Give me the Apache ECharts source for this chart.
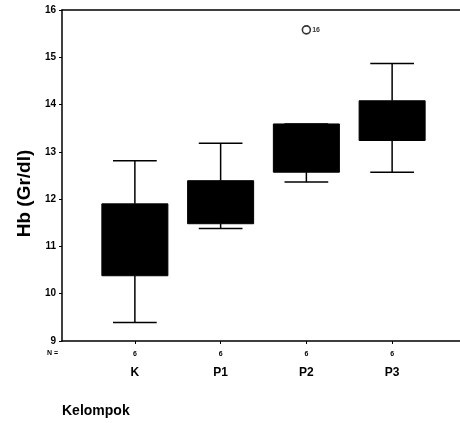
<!DOCTYPE html>
<html>
<head>
<meta charset="utf-8">
<script src="https://cdn.jsdelivr.net/npm/echarts@6/dist/echarts.min.js"></script>
<style>html,body{margin:0;padding:0;background:#fff;}#chart{width:460px;height:423px;}</style>
</head>
<body>
<div id="chart"></div>
<script>
var categories = ['K', 'P1', 'P2', 'P3'];
var nCounts = ['6', '6', '6', '6'];
var whiskerLow = [9.39, 11.38, 12.36, 12.57];
var q1Values = [10.38, 11.48, 12.57, 13.24];
var q3Values = [11.90, 12.39, 13.59, 14.08];
var whiskerHigh = [12.81, 13.18, 13.59, 14.87];
var outlierCategory = ['P2'];
var outlierValues = [15.58];
var outlierLabels = ['16'];
var yTicks = [9, 10, 11, 12, 13, 14, 15, 16];

var FONT = '"Liberation Sans", Arial, sans-serif';
var boxData = categories.map(function (c, i) {
  return [i, whiskerLow[i], q1Values[i], q3Values[i], whiskerHigh[i]];
});
var outData = outlierValues.map(function (v, i) {
  return { value: [categories.indexOf(outlierCategory[i]), v], lab: outlierLabels[i] };
});

var chart = echarts.init(document.getElementById('chart'));
chart.setOption({
  animation: false,
  backgroundColor: '#fff',
  title: [
    { text: 'N =', left: 47, top: 350, padding: 0, textStyle: { fontFamily: FONT, fontSize: 7, fontWeight: 'bold', color: '#000' } },
    { text: 'Kelompok', left: 62, top: 404, padding: 0, textStyle: { fontFamily: FONT, fontSize: 14, fontWeight: 'bold', color: '#000' } }
  ],
  grid: [
    { left: 62, top: 10, width: 398, height: 331 },
    { left: 92, top: 10, width: 343, height: 331 }
  ],
  xAxis: [
    { gridIndex: 0, type: 'value', min: 0, max: 1, position: 'bottom',
      axisLine: { show: true, lineStyle: { color: '#000', width: 1.5 } },
      axisTick: { show: false }, axisLabel: { show: false }, splitLine: { show: false } },
    { gridIndex: 0, type: 'value', min: 0, max: 1, position: 'top',
      axisLine: { show: true, lineStyle: { color: '#000', width: 1.5 } },
      axisTick: { show: false }, axisLabel: { show: false }, splitLine: { show: false } },
    { gridIndex: 1, type: 'category', data: categories, position: 'bottom',
      axisLine: { show: false },
      axisTick: { show: true, alignWithLabel: true, length: 3, inside: false, lineStyle: { color: '#000' } },
      axisLabel: {
        margin: 7,
        formatter: function (v, i) { return '{n|' + nCounts[i] + '}\n{c|' + v + '}'; },
        rich: {
          n: { fontFamily: FONT, fontSize: 7, fontWeight: 'bold', color: '#000', lineHeight: 12 },
          c: { fontFamily: FONT, fontSize: 12, fontWeight: 'bold', color: '#000', lineHeight: 26 }
        }
      },
      splitLine: { show: false } }
  ],
  yAxis: [
    { gridIndex: 0, type: 'value', min: 9, max: 16, interval: 1,
      axisLine: { show: true, lineStyle: { color: '#000', width: 1.5 } },
      axisTick: { show: true, length: 3, lineStyle: { color: '#000' } },
      axisLabel: { fontFamily: FONT, fontSize: 10, fontWeight: 'bold', color: '#000', margin: 6,
        formatter: function (v) { return yTicks.indexOf(v) >= 0 ? String(v) : ''; } },
      splitLine: { show: false },
      name: 'Hb (Gr/dl)', nameLocation: 'middle', nameRotate: 90, nameGap: 28,
      nameTextStyle: { fontFamily: FONT, fontSize: 19, fontWeight: 'bold', color: '#000', padding: [0, 36, 0, 0] } },
    { gridIndex: 1, type: 'value', min: 9, max: 16, interval: 1, show: false }
  ],
  series: [
    {
      type: 'custom', xAxisIndex: 2, yAxisIndex: 1, data: boxData,
      renderItem: function (params, api) {
        var x = api.value(0);
        var lo = api.coord([x, api.value(1)]);
        var q1 = api.coord([x, api.value(2)]);
        var q3 = api.coord([x, api.value(3)]);
        var hi = api.coord([x, api.value(4)]);
        var band = api.size([1, 0])[0];
        var bw = band * 0.77;
        var cw = band * 0.51;
        var ls = { stroke: '#000', lineWidth: 1.5 };
        return {
          type: 'group',
          children: [
            { type: 'line', shape: { x1: hi[0], y1: hi[1], x2: q3[0], y2: q3[1] }, style: ls },
            { type: 'line', shape: { x1: lo[0], y1: lo[1], x2: q1[0], y2: q1[1] }, style: ls },
            { type: 'line', shape: { x1: hi[0] - cw / 2, y1: hi[1], x2: hi[0] + cw / 2, y2: hi[1] }, style: ls },
            { type: 'line', shape: { x1: lo[0] - cw / 2, y1: lo[1], x2: lo[0] + cw / 2, y2: lo[1] }, style: ls },
            { type: 'rect', shape: { x: q3[0] - bw / 2, y: q3[1], width: bw, height: q1[1] - q3[1] }, style: { fill: '#000', stroke: '#000', lineWidth: 1 } }
          ]
        };
      }
    },
    {
      type: 'scatter', xAxisIndex: 2, yAxisIndex: 1, data: outData,
      symbol: 'circle', symbolSize: 8,
      itemStyle: { color: '#fff', borderColor: '#000', borderWidth: 1.6 },
      label: { show: true, position: 'right', distance: 1, formatter: function (p) { return p.data.lab; },
        fontFamily: FONT, fontSize: 7, fontWeight: 'bold', color: '#000' }
    }
  ]
});
</script>
</body>
</html>
